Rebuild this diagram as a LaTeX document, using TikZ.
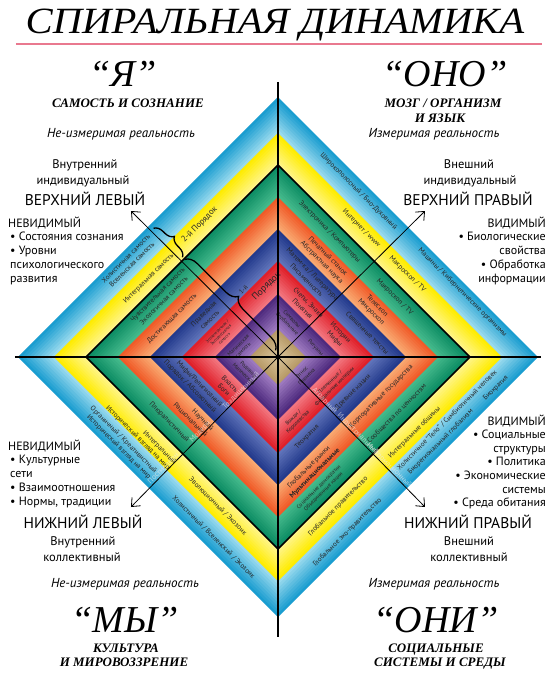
\documentclass[tikz,border=0pt]{standalone}
\usepackage{fontspec}
\setmainfont{Liberation Serif}
\setsansfont{PT Sans}
\usetikzlibrary{arrows.meta,decorations.pathreplacing}
\definecolor{cyanA}{HTML}{1A9DD0}
\definecolor{cyanB}{HTML}{9ADAEE}
\definecolor{yelA}{HTML}{FFEC00}
\definecolor{yelB}{HTML}{FFF58A}
\definecolor{grnA}{HTML}{0C8C63}
\definecolor{grnB}{HTML}{45BA8C}
\definecolor{orgA}{HTML}{F05A28}
\definecolor{orgB}{HTML}{F9AA72}
\definecolor{bluA}{HTML}{233A8C}
\definecolor{bluB}{HTML}{6074BA}
\definecolor{redA}{HTML}{E0202A}
\definecolor{redB}{HTML}{F2767F}
\definecolor{purA}{HTML}{4E2A7E}
\definecolor{purB}{HTML}{9D7AC0}
\definecolor{begA}{HTML}{B89B68}
\definecolor{begB}{HTML}{D9C59B}
\definecolor{titleline}{HTML}{E9798F}

\begin{document}
\begin{tikzpicture}[x=1pt,y=1pt,
  bandtxt/.style={font=\sffamily\fontsize{7}{8.5}\selectfont,text=black!85,align=center,inner sep=0pt},
  smalltxt/.style={bandtxt,font=\sffamily\fontsize{5.5}{6.5}\selectfont},
  tinytxt/.style={bandtxt,font=\sffamily\fontsize{4.2}{5}\selectfont},
  arrtxt/.style={font=\sffamily\fontsize{7.5}{8}\selectfont,text=white!85!gray,opacity=0.65,inner sep=0pt},
  quadname/.style={font=\sffamily\fontsize{15.5}{18}\selectfont,inner sep=0pt,anchor=base},
  quadsub/.style={font=\sffamily\fontsize{12.5}{14}\selectfont,inner sep=0pt,anchor=base},
  seen/.style={font=\sffamily\fontsize{12}{14}\selectfont,inner sep=0pt},
  facts/.style={font=\sffamily\fontsize{12}{14}\selectfont,inner sep=0pt},
  reality/.style={font=\sffamily\itshape\fontsize{13}{14}\selectfont,inner sep=0pt,anchor=base},
  pronoun/.style={font=\itshape\fontsize{38}{40}\selectfont,inner sep=0pt,anchor=base},
  theme/.style={font=\bfseries\itshape\fontsize{13}{14}\selectfont,inner sep=0pt,anchor=base},
  mainaxis/.style={line width=2.6pt},
  quadarrow/.style={line width=0.8pt,-{Straight Barb[length=7pt,width=12pt,line width=0.8pt]}},
  tierbrace/.style={line width=1.3pt,decorate,decoration={brace,amplitude=#1}}
]
\fill[white] (-278,-316) rectangle (278,357);
\useasboundingbox (-278,-316) rectangle (278,357);

% title
\node[font=\itshape\fontsize{37}{40}\selectfont,inner sep=0pt,anchor=base] (title) at (-3,323) {\scalebox{1.1}[1]{СПИРАЛЬНАЯ ДИНАМИКА}};
\coordinate (tlL) at (-262,313);
\coordinate (tlR) at (264,313);
\draw[titleline,line width=2pt] (tlL) -- (tlR);

% colour bands, outside in
\foreach \ro/\ri/\ca/\cb in {260/224/cyanA/cyanB,224/192/yelA/yelB,192/160/grnA/grnB,160/128/orgA/orgB,
                             128/96/bluA/bluB,96/63/redA/redB,63/28/purA/purB,28/0/begA/begB}{
  \foreach \k in {0,...,9}{
    \pgfmathsetmacro\rad{\ro-\k*(\ro-\ri)/10}
    \pgfmathtruncatemacro\p{100-\k*11}
    \fill[\ca!\p!\cb] (0,\rad) -- (\rad,0) -- (0,-\rad) -- (-\rad,0) -- cycle;
  }
}
\draw[line width=1.6pt] (0,192) -- (192,0) -- (0,-192) -- (-192,0) -- cycle;

% upper left side
\begin{scope}[rotate=45,transform shape]
\node[bandtxt] (ulcy) at (-38,173) {Холистичная самость\\Вселенская самость};
\node[bandtxt] (ulye) at (-36,147) {Интегральная самость};
\node[bandtxt] (ulgr) at (-41,125) {Чувствительная самость\\Экологичная самость};
\node[bandtxt] (ulor) at (-48,102) {Достигающая самость};
\node[bandtxt] (ulbl) at (-22,79) {Праведная\\самость};
\node[tinytxt] (ulre) at (-25,56) {Эгоцентричная /\\Экспрессивная\\самость};
\node[smalltxt] (ulpu) at (-20,33) {Магическая\\самость};
\node[bandtxt,font=\sffamily\fontsize{8.5}{9}\selectfont] (ultwo) at (38,149) {2-й Порядок};
\node[bandtxt,font=\sffamily\fontsize{6.5}{7}\selectfont] (ulonea) at (23,72) {1-й};
\node[bandtxt,font=\sffamily\fontsize{9.5}{10}\selectfont] (uloneb) at (42,58) {Порядок};
\draw[tierbrace=9pt] (3,179) -- (3,138);
\draw[tierbrace=12pt] (3,135) -- (3,6);
\end{scope}

% upper right side
\begin{scope}[rotate=-45,transform shape]
\node[bandtxt] (urcya) at (-60,174) {Широкополосный / Био-Духовный};
\node[bandtxt] (urcyb) at (85,176) {Машины / Кибернетические организмы};
\node[bandtxt] (urye) at (-32,150) {Интернет / www};
\node[bandtxt] (uryeb) at (33,150) {Макроскоп / TV};
\node[bandtxt] (urgr) at (-52,125) {Электроника / Компьютеры};
\node[bandtxt] (urgrb) at (40,125) {Макроскоп / TV};
\node[bandtxt] (uror) at (-36,102) {Печатный станок\\Абстрактная наука};
\node[bandtxt] (urorb) at (34,102) {Телескоп\\Микроскоп};
\node[bandtxt] (urbl) at (-34,79) {Матем-ка / Литература\\Письменность};
\node[bandtxt] (urblb) at (46,80) {Священные тексты};
\node[bandtxt] (urre) at (-17,56) {Счеты, Знаки\\Понятия};
\node[bandtxt] (urreb) at (27,57) {Истории\\Мифы};
\node[smalltxt] (urpu) at (-17,33) {Символы\\Вербальные};
\node[smalltxt] (urpub) at (20,33) {Ритуалы};
\end{scope}

% lower left side
\begin{scope}[rotate=-45,transform shape]
\node[bandtxt,anchor=east,align=right] (llye) at (2,-152) {Интегральный\\Исторический взгляд на мир};
\node[bandtxt,anchor=east,align=right] (llcy) at (-5,-172) {Органичный / Креативистный\\Исторический взгляд на мир};
\node[bandtxt] (llgr) at (-31,-123) {Плюралистичный};
\node[bandtxt,anchor=east,align=right] (llor) at (5,-102) {Научный\\Рациональный};
\node[bandtxt,anchor=east,align=right] (llbl) at (-6,-79) {Мифы/Религиозный\\Порядок / Абсолютный};
\node[bandtxt] (llre) at (-15,-57) {Власть\\Боги};
\node[smalltxt] (llpu) at (-12,-33) {Родовой\\Магический};
\node[bandtxt] (llyeb) at (63,-148) {Эволюционный / Экозоик};
\node[bandtxt] (llcyb) at (82,-173) {Холистичный / Вселенский / Экозоик};
\end{scope}

% lower right side
\begin{scope}[rotate=45,transform shape]
\node[bandtxt] (lrcya) at (75,-164) {Холистичное “Тело” / Симбиотичный человек};
\node[bandtxt] (lrcyb) at (55,-175) {Биорегиональный глобализм};
\node[bandtxt] (lrcyc) at (132,-176) {Биократия};
\node[bandtxt] (lrcyd) at (-75,-173) {Глобальное эко-правительство};
\node[bandtxt] (lrye) at (43,-150) {Интегральные общины};
\node[bandtxt] (lryeb) at (-63,-148) {Глобальное правительство};
\node[bandtxt] (lrgr) at (44,-124) {Сообщества по ценностям};
\node[smalltxt] (lrgrb) at (-63,-124) {Социальные демократии\\Объединенные нации};
\node[bandtxt] (lror) at (45,-101) {Корпоративные государства};
\node[bandtxt] (lrorb) at (-56,-104) {Глобальные рынки\\\textbf{Мультинациональные}};
\node[bandtxt] (lrbl) at (28,-78) {Древние нации};
\node[bandtxt] (lrblb) at (-36,-77) {Теократия};
\node[smalltxt] (lrre) at (19,-58) {Племенные /\\Феодальные империи};
\node[smalltxt] (lrreb) at (-32,-57) {Вожди /\\Королевства};
\node[smalltxt] (lrpu) at (6,-31) {Этнос\\Племена};
\end{scope}

% faint labels on the lower arrows
\begin{scope}[rotate=45,transform shape]
\node[arrtxt] (llpost) at (-160,2) {Постмодерн};
\node[arrtxt] (llmod) at (-108,2) {Модерн};
\node[arrtxt] (lltrad) at (-50,2) {Традиционный};
\end{scope}
\begin{scope}[rotate=-45,transform shape]
\node[arrtxt] (lragr) at (64,2) {Аграрный};
\node[arrtxt] (lrind) at (111,2) {Индустриальный};
\node[arrtxt] (lrinf) at (155,2) {Информационный};
\end{scope}

% arrows and axes
\coordinate (O) at (0,0);
\coordinate (ulTip) at (-147,146);
\coordinate (urTip) at (147,146);
\coordinate (llTip) at (-147,-150);
\coordinate (lrTip) at (147,-150);
\draw[quadarrow] (O) -- (ulTip);
\draw[quadarrow] (O) -- (urTip);
\draw[quadarrow] (O) -- (llTip);
\draw[quadarrow] (O) -- (lrTip);
\coordinate (axW) at (-263,0);
\coordinate (axE) at (263,0);
\coordinate (axN) at (0,275);
\coordinate (axS) at (0,-280);
\draw[mainaxis] (axW) -- (axE);
\draw[mainaxis] (axN) -- (axS);

% upper left quadrant
\node[pronoun] (ya) at (-155,270) {“Я”};
\node[theme] (yatheme) at (-150,249) {САМОСТЬ И СОЗНАНИЕ};
\node[reality] (yareal) at (-157,219) {Не-измеримая реальность};
\node[quadsub] (ulin) at (-193,189) {Внутренний};
\node[quadsub] (ulind) at (-195,173) {индивидуальный};
\node[quadname] (ulname) at (-193,152) {ВЕРХНИЙ ЛЕВЫЙ};
\node[seen,anchor=base west] (ulseen) at (-270,130) {НЕВИДИМЫЙ};
\node[facts,anchor=north west,align=left] (ulfacts) at (-268,125) {• Состояния сознания\\• Уровни\\психологического\\развития};

% upper right quadrant
\node[pronoun] (ono) at (167,270) {“ОНО”};
\node[theme] (onotheme) at (165,249) {МОЗГ / ОРГАНИЗМ};
\node[theme] (onothemeb) at (162,234) {И ЯЗЫК};
\node[reality] (onoreal) at (156,219) {Измеримая реальность};
\node[quadsub] (urout) at (191,189) {Внешний};
\node[quadsub] (urind) at (192,173) {индивидуальный};
\node[quadname] (urname) at (190,152) {ВЕРХНИЙ ПРАВЫЙ};
\node[seen,anchor=base east] (urseen) at (268,130) {ВИДИМЫЙ};
\node[facts,anchor=north east,align=right] (urfacts) at (268,125) {• Биологические\\свойства\\• Обработка\\информации};

% lower left quadrant
\node[seen,anchor=base west] (llseen) at (-270,-93) {НЕВИДИМЫЙ};
\node[facts,anchor=north west,align=left] (llfacts) at (-268,-98) {• Культурные\\сети\\• Взаимоотношения\\• Нормы, традиции};
\node[quadname] (llname) at (-195,-171) {НИЖНИЙ ЛЕВЫЙ};
\node[quadsub] (llin) at (-195,-188) {Внутренний};
\node[quadsub] (llcol) at (-196,-204) {коллективный};
\node[reality] (myreal) at (-153,-230) {Не-измеримая реальность};
\node[pronoun] (my) at (-153,-275) {“МЫ”};
\node[theme] (mytheme) at (-152,-295) {КУЛЬТУРА};
\node[theme] (mythemeb) at (-154,-309) {И МИРОВОЗЗРЕНИЕ};

% lower right quadrant
\node[seen,anchor=base east] (lrseen) at (268,-68) {ВИДИМЫЙ};
\node[facts,anchor=north east,align=right,font=\sffamily\fontsize{12}{13.6}\selectfont] (lrfacts) at (268,-73) {• Социальные\\структуры\\• Политика\\• Экономические\\системы\\• Среда обитания};
\node[quadname] (lrname) at (190,-171) {НИЖНИЙ ПРАВЫЙ};
\node[quadsub] (lrout) at (191,-188) {Внешний};
\node[quadsub] (lrcol) at (191,-204) {коллективный};
\node[reality] (onireal) at (156,-230) {Измеримая реальность};
\node[pronoun] (oni) at (158,-275) {“ОНИ”};
\node[theme] (onitheme) at (158,-295) {СОЦИАЛЬНЫЕ};
\node[theme] (onithemeb) at (162,-309) {СИСТЕМЫ И СРЕДЫ};
\end{tikzpicture}
\end{document}
